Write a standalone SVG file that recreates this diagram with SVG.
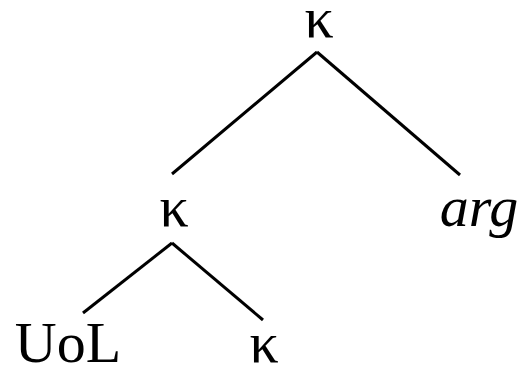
<svg xmlns="http://www.w3.org/2000/svg" width="527" height="371" viewBox="0 0 527 371">
<style>
.t{font-family:"Liberation Serif","DejaVu Serif",serif;font-size:58px;fill:#000;text-anchor:middle}
.i{font-style:italic}
.e{stroke:#000;stroke-width:3;fill:none}
</style>
<rect width="527" height="371" fill="#fff"/>
<g id="connectors">
<line class="e" x1="317" y1="52" x2="172" y2="174"/>
<line class="e" x1="317" y1="52" x2="460" y2="175"/>
<line class="e" x1="172" y1="243" x2="83" y2="313"/>
<line class="e" x1="172" y1="243" x2="263" y2="320"/>
</g>
<g id="n-root"><text class="t" x="319" y="37">κ</text></g>
<g id="n-mid"><text class="t" x="174" y="226">κ</text></g>
<g id="n-arg"><text class="t i" x="479" y="226">arg</text></g>
<g id="n-uol"><text class="t" x="68" y="362">UoL</text></g>
<g id="n-leaf"><text class="t" x="264" y="362">κ</text></g>
</svg>
